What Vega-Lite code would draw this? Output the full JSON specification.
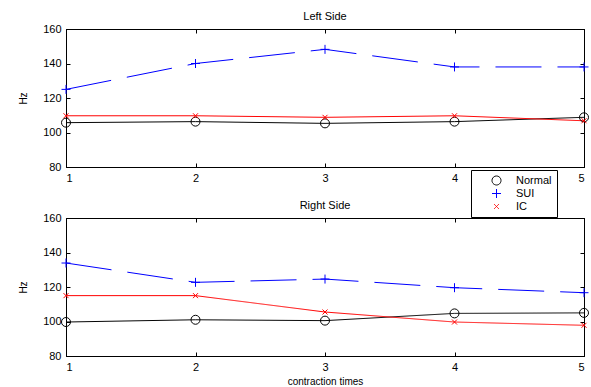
{
  "$schema": "https://vega.github.io/schema/vega-lite/v6.json",
  "padding": {"left": 18, "top": 10, "right": 5, "bottom": 5},
  "spacing": 15,
  "config": {
    "font": "Liberation Sans",
    "view": {"stroke": "black", "strokeWidth": 1},
    "axis": {"grid": false, "domainColor": "black", "tickColor": "black", "labelColor": "black", "titleColor": "black", "labelFontSize": 11, "titleFontSize": 10, "titleFontWeight": "normal", "tickSize": -4, "labelPadding": 9, "labelFont": "Liberation Sans", "titleFont": "Liberation Sans"},
    "title": {"fontSize": 11, "fontWeight": "normal", "color": "black", "offset": 1, "font": "Liberation Sans"},
    "legend": {"labelFont": "Liberation Sans"}
  },
  "datasets": {
    "d": [
      {"side": "Left", "series": "Normal", "t": 1, "hz": 105.7},
      {"side": "Left", "series": "Normal", "t": 2, "hz": 106.3},
      {"side": "Left", "series": "Normal", "t": 3, "hz": 105.3},
      {"side": "Left", "series": "Normal", "t": 4, "hz": 106.3},
      {"side": "Left", "series": "Normal", "t": 5, "hz": 108.8},
      {"side": "Left", "series": "SUI", "t": 1, "hz": 125},
      {"side": "Left", "series": "SUI", "t": 2, "hz": 140},
      {"side": "Left", "series": "SUI", "t": 3, "hz": 148.2},
      {"side": "Left", "series": "SUI", "t": 4, "hz": 138},
      {"side": "Left", "series": "SUI", "t": 5, "hz": 138},
      {"side": "Left", "series": "IC", "t": 1, "hz": 109.7},
      {"side": "Left", "series": "IC", "t": 2, "hz": 109.7},
      {"side": "Left", "series": "IC", "t": 3, "hz": 108.8},
      {"side": "Left", "series": "IC", "t": 4, "hz": 109.7},
      {"side": "Left", "series": "IC", "t": 5, "hz": 106.8},
      {"side": "Right", "series": "Normal", "t": 1, "hz": 99.7},
      {"side": "Right", "series": "Normal", "t": 2, "hz": 101},
      {"side": "Right", "series": "Normal", "t": 3, "hz": 100.5},
      {"side": "Right", "series": "Normal", "t": 4, "hz": 104.7},
      {"side": "Right", "series": "Normal", "t": 5, "hz": 105},
      {"side": "Right", "series": "SUI", "t": 1, "hz": 133.9},
      {"side": "Right", "series": "SUI", "t": 2, "hz": 122.7},
      {"side": "Right", "series": "SUI", "t": 3, "hz": 124.6},
      {"side": "Right", "series": "SUI", "t": 4, "hz": 119.6},
      {"side": "Right", "series": "SUI", "t": 5, "hz": 116.7},
      {"side": "Right", "series": "IC", "t": 1, "hz": 115},
      {"side": "Right", "series": "IC", "t": 2, "hz": 115},
      {"side": "Right", "series": "IC", "t": 3, "hz": 105.5},
      {"side": "Right", "series": "IC", "t": 4, "hz": 99.7},
      {"side": "Right", "series": "IC", "t": 5, "hz": 97.8}
    ]
  },
  "vconcat": [
    {
      "title": "Left Side",
      "width": 518,
      "height": 138,
      "data": {"name": "d"},
      "transform": [{"filter": "datum.side === 'Left'"}],
      "layer": [
        {
          "mark": {"type": "line", "strokeWidth": 1},
          "encoding": {
            "x": {"field": "t", "type": "quantitative", "scale": {"domain": [1, 5], "nice": false}, "axis": {"orient": "bottom", "values": [1, 2, 3, 4, 5], "format": "d", "title": null}},
            "y": {"field": "hz", "type": "quantitative", "scale": {"domain": [80, 160], "nice": false}, "axis": {"orient": "left", "values": [80, 100, 120, 140, 160], "title": "Hz", "titlePadding": 14}},
            "color": {"field": "series", "type": "nominal", "scale": {"domain": ["Normal", "SUI", "IC"], "range": ["#000000", "#0000ff", "#ff0000"]},
              "legend": {"orient": "none", "legendX": 405, "legendY": 141, "title": null, "strokeColor": "black", "fillColor": "white", "padding": 5, "labelFontSize": 11, "labelColor": "black", "symbolSize": 100, "symbolStrokeWidth": 1, "symbolOffset": 15, "labelOffset": 14, "rowPadding": 0}},
            "strokeDash": {"field": "series", "type": "nominal", "scale": {"domain": ["Normal", "SUI", "IC"], "range": [[1, 0], [46, 16], [1, 0]]}, "legend": null}
          }
        },
        {
          "mark": {"type": "point", "filled": false, "strokeWidth": 1, "opacity": 1, "size": 100},
          "encoding": {
            "x": {"field": "t", "type": "quantitative", "axis": {"orient": "top", "values": [1, 2, 3, 4, 5], "labels": false, "title": null}},
            "y": {"field": "hz", "type": "quantitative", "axis": {"orient": "right", "values": [80, 100, 120, 140, 160], "labels": false, "title": null}},
            "color": {"field": "series", "type": "nominal", "legend": null},
            "shape": {"field": "series", "type": "nominal", "scale": {"domain": ["Normal", "SUI", "IC"], "range": ["M-0.9,0A0.9,0.9,0,1,0,0.9,0A0.9,0.9,0,1,0,-0.9,0", "M-0.9,0L0.9,0M0,-0.9L0,0.9", "M-0.5,-0.5L0.5,0.5M-0.5,0.5L0.5,-0.5"]}, "legend": null}
          }
        }
      ],
      "resolve": {"axis": {"x": "independent", "y": "independent"}}
    },
    {
      "title": "Right Side",
      "width": 518,
      "height": 138,
      "data": {"name": "d"},
      "transform": [{"filter": "datum.side === 'Right'"}],
      "layer": [
        {
          "mark": {"type": "line", "strokeWidth": 1},
          "encoding": {
            "x": {"field": "t", "type": "quantitative", "scale": {"domain": [1, 5], "nice": false}, "axis": {"orient": "bottom", "values": [1, 2, 3, 4, 5], "format": "d", "title": "contraction times", "titlePadding": 4}},
            "y": {"field": "hz", "type": "quantitative", "scale": {"domain": [80, 160], "nice": false}, "axis": {"orient": "left", "values": [80, 100, 120, 140, 160], "title": "Hz", "titlePadding": 14}},
            "color": {"field": "series", "type": "nominal", "legend": null},
            "strokeDash": {"field": "series", "type": "nominal", "legend": null}
          }
        },
        {
          "mark": {"type": "point", "filled": false, "strokeWidth": 1, "opacity": 1, "size": 100},
          "encoding": {
            "x": {"field": "t", "type": "quantitative", "axis": {"orient": "top", "values": [1, 2, 3, 4, 5], "labels": false, "title": null}},
            "y": {"field": "hz", "type": "quantitative", "axis": {"orient": "right", "values": [80, 100, 120, 140, 160], "labels": false, "title": null}},
            "color": {"field": "series", "type": "nominal", "legend": null},
            "shape": {"field": "series", "type": "nominal", "legend": null}
          }
        }
      ],
      "resolve": {"axis": {"x": "independent", "y": "independent"}}
    }
  ]
}
